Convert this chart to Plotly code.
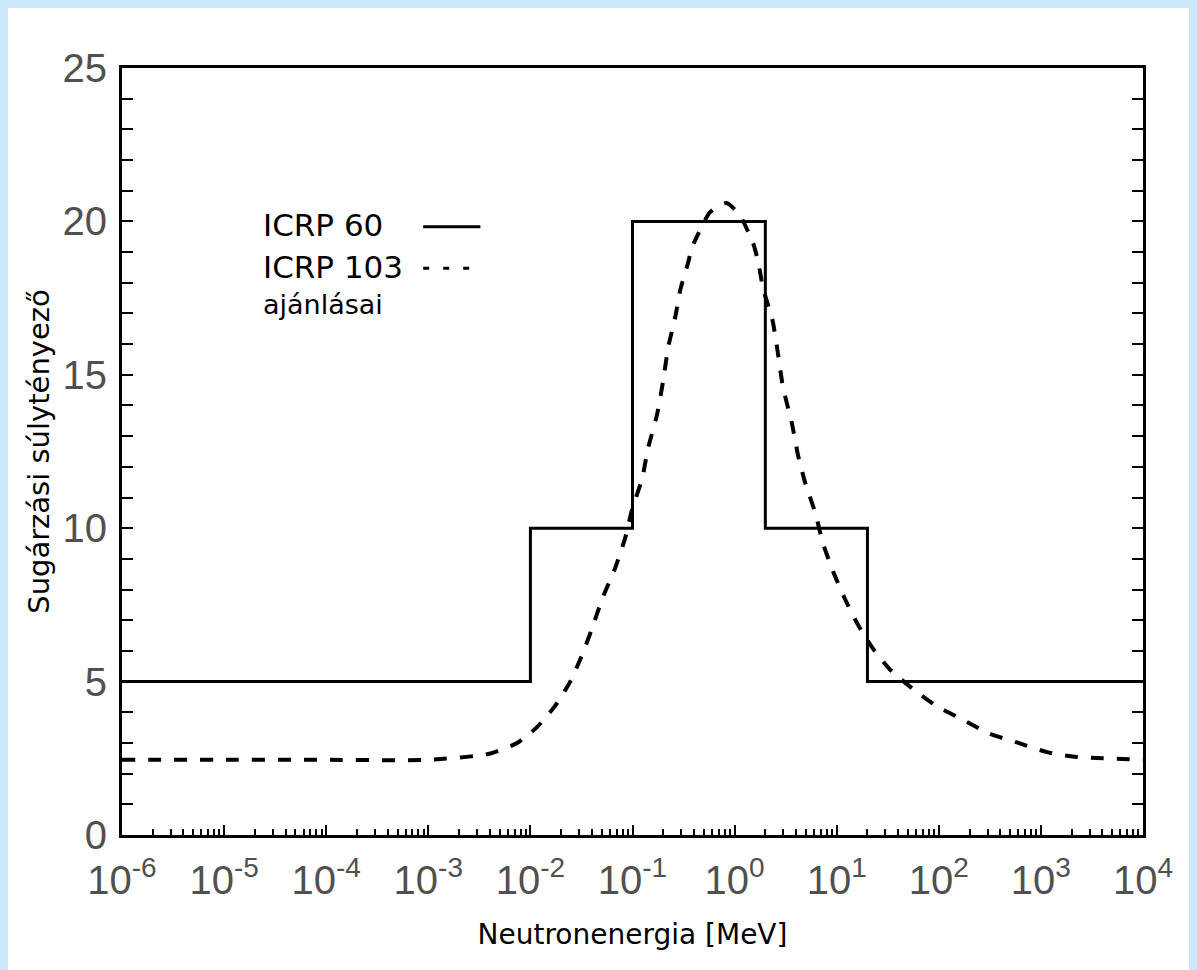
import plotly.graph_objects as go

# ICRP 60 step function (energy in MeV, weighting factor)
icrp60_energy = [1e-6, 1e-2, 1e-1, 2.0, 20.0, 1e4]
icrp60_value = [5, 10, 20, 10, 5, 5]

# ICRP 103 curve (log10 of energy in MeV, weighting factor)
icrp103_log10_energy = [-6.0, -5.0, -4.0, -3.0, -2.4, -2.13, -1.94, -1.76, -1.61, -1.49,
                        -1.40, -1.29, -1.17, -1.07, -1.005, -0.907, -0.848, -0.76, -0.70,
                        -0.65, -0.58, -0.53, -0.46, -0.41, -0.24, -0.08, 0.05, 0.18, 0.23,
                        0.28, 0.37, 0.42, 0.474, 0.562, 0.62, 0.69, 0.79, 0.866, 0.964,
                        1.08, 1.20, 1.35, 1.52, 1.75, 1.98, 2.24, 2.50, 2.78, 3.06, 3.33,
                        3.61, 4.0]
icrp103_value = [2.45, 2.45, 2.45, 2.45, 2.65, 3.0, 3.5, 4.2, 5.0, 5.9,
                 6.7, 7.75, 8.7, 9.7, 10.6, 11.6, 12.6, 13.7, 14.8,
                 15.9, 16.9, 17.8, 18.6, 19.2, 20.3, 20.6, 20.2, 19.3, 18.7,
                 17.8, 16.8, 15.8, 14.6, 13.4, 12.4, 11.5, 10.5, 9.5, 8.6,
                 7.7, 6.9, 6.1, 5.4, 4.75, 4.2, 3.75, 3.3, 3.0, 2.7, 2.55,
                 2.5, 2.45]
icrp103_energy = [10 ** v for v in icrp103_log10_energy]

x_tick_exponents = [-6, -5, -4, -3, -2, -1, 0, 1, 2, 3, 4]
x_tick_values = [10.0 ** e for e in x_tick_exponents]
x_tick_labels = ["10<sup>%d</sup>" % e for e in x_tick_exponents]
y_tick_values = [0, 5, 10, 15, 20, 25]

legend_labels = ["ICRP 60", "ICRP 103", "ajánlásai"]

fig = go.Figure()
fig.add_trace(go.Scatter(x=icrp60_energy, y=icrp60_value, mode="lines",
                         line=dict(color="black", width=3, shape="hv"),
                         name=legend_labels[0], showlegend=False))
fig.add_trace(go.Scatter(x=icrp103_energy, y=icrp103_value, mode="lines",
                         line=dict(color="black", width=4, dash="13px,13px", shape="spline", smoothing=0.6),
                         name=legend_labels[1], showlegend=False))

tickfont = dict(family="Liberation Sans, Arial, sans-serif", size=40, color="#505050")

fig.update_xaxes(type="log", range=[-6, 4], tickvals=x_tick_values, ticktext=x_tick_labels,
                 ticks="inside", ticklen=10, tickwidth=2, tickcolor="black",
                 ticklabelstandoff=8,
                 showline=True, linewidth=3, linecolor="black", mirror=True,
                 showgrid=False, zeroline=False, tickfont=tickfont,
                 minor=dict(ticks="inside", ticklen=6, tickwidth=2, tickcolor="black",
                            dtick="D1", showgrid=False),
                 title=dict(text="Neutronenergia [MeV]",
                            font=dict(family="DejaVu Sans, Verdana, sans-serif", size=28, color="black"),
                            standoff=24))
fig.update_yaxes(range=[0, 25], tickvals=y_tick_values,
                 ticks="inside", ticklen=11, tickwidth=2, tickcolor="black",
                 ticklabelstandoff=4,
                 showline=True, linewidth=3, linecolor="black", mirror="allticks",
                 showgrid=False, zeroline=False, tickfont=tickfont,
                 minor=dict(ticks="inside", ticklen=11, tickwidth=2, tickcolor="black",
                            dtick=1, showgrid=False),
                 title=dict(text="Sugárzási súlytényező",
                            font=dict(family="DejaVu Sans, Verdana, sans-serif", size=29, color="black"),
                            standoff=5))

# legend drawn as text + sample lines (text left, line right)
legfont = dict(family="DejaVu Sans, Verdana, sans-serif", size=31, color="black")
fig.add_annotation(xref="paper", yref="paper", x=0.136, y=0.795, text=legend_labels[0],
                   showarrow=False, xanchor="left", yanchor="middle", font=legfont)
fig.add_annotation(xref="paper", yref="paper", x=0.136, y=0.740, text=legend_labels[1],
                   showarrow=False, xanchor="left", yanchor="middle", font=legfont)
fig.add_annotation(xref="paper", yref="paper", x=0.136, y=0.692, text=legend_labels[2],
                   showarrow=False, xanchor="left", yanchor="middle",
                   font=dict(family="DejaVu Sans, Verdana, sans-serif", size=27, color="black"))
fig.add_shape(type="line", xref="paper", yref="paper", x0=0.295, x1=0.351, y0=0.793, y1=0.793,
              line=dict(color="black", width=3))
fig.add_shape(type="line", xref="paper", yref="paper", x0=0.295, x1=0.351, y0=0.739, y1=0.739,
              line=dict(color="black", width=3, dash="6px,14px"))

fig.update_layout(width=1181, height=962,
                  margin=dict(l=114, r=46, t=60, b=135),
                  paper_bgcolor="white", plot_bgcolor="white",
                  showlegend=False)

# page background = light blue frame around the white figure
fig.write_html("out.html",
               post_script="document.body.style.background='#cce9fc';")
